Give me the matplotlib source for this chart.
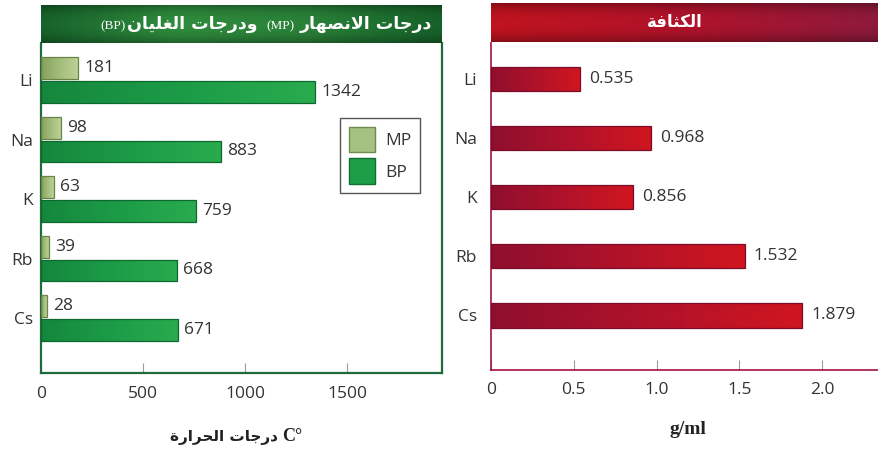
import numpy as np
import matplotlib
matplotlib.use("Agg")
import matplotlib.pyplot as plt
from matplotlib.colors import LinearSegmentedColormap
from matplotlib.patches import Patch

elements = ["Li", "Na", "K", "Rb", "Cs"]
melting_points = [181, 98, 63, 39, 28]
boiling_points = [1342, 883, 759, 668, 671]
densities = [0.535, 0.968, 0.856, 1.532, 1.879]
temp_ticks = [0, 500, 1000, 1500]
density_ticks = [0, 0.5, 1.0, 1.5, 2.0]
density_tick_labels = ["0", "0.5", "1.0", "1.5", "2.0"]

W, H = 879, 450
SANS = "Open Sans"
SERIF = "Liberation Serif"
ARABIC = "DejaVu Sans"

# contextual forms: isolated, final, initial, medial
FORMS = {
    "ا": ("\ufe8d", "\ufe8e"),
    "ة": ("\ufe93", "\ufe94"),
    "ت": ("\ufe95", "\ufe96", "\ufe97", "\ufe98"),
    "ث": ("\ufe99", "\ufe9a", "\ufe9b", "\ufe9c"),
    "ج": ("\ufe9d", "\ufe9e", "\ufe9f", "\ufea0"),
    "ح": ("\ufea1", "\ufea2", "\ufea3", "\ufea4"),
    "د": ("\ufea9", "\ufeaa"),
    "ر": ("\ufead", "\ufeae"),
    "ص": ("\ufeb9", "\ufeba", "\ufebb", "\ufebc"),
    "غ": ("\ufecd", "\ufece", "\ufecf", "\ufed0"),
    "ف": ("\ufed1", "\ufed2", "\ufed3", "\ufed4"),
    "ك": ("\ufed9", "\ufeda", "\ufedb", "\ufedc"),
    "ل": ("\ufedd", "\ufede", "\ufedf", "\ufee0"),
    "ن": ("\ufee5", "\ufee6", "\ufee7", "\ufee8"),
    "ه": ("\ufee9", "\ufeea", "\ufeeb", "\ufeec"),
    "و": ("\ufeed", "\ufeee"),
    "ي": ("\ufef1", "\ufef2", "\ufef3", "\ufef4"),
}


def ar(text):
    """Shape Arabic letters and return them in display order."""
    out = []
    i = 0
    while i < len(text):
        ch = text[i]
        if ch not in FORMS:
            out.append(ch)
            i += 1
            continue
        prev = text[i - 1] if i > 0 else ""
        joins_prev = prev in FORMS and len(FORMS[prev]) == 4
        if ch == "ل" and i + 1 < len(text) and text[i + 1] == "ا":
            out.append("\ufefc" if joins_prev else "\ufefb")
            i += 2
            continue
        nxt = text[i + 1] if i + 1 < len(text) else ""
        forms = FORMS[ch]
        joins_next = len(forms) == 4 and nxt in FORMS
        if joins_prev and joins_next:
            out.append(forms[3])
        elif joins_prev:
            out.append(forms[1])
        elif joins_next:
            out.append(forms[2])
        else:
            out.append(forms[0])
        i += 1
    return "".join(reversed(out))


def box(x0, y0, x1, y1):
    return [x0 / W, 1 - y1 / H, (x1 - x0) / W, (y1 - y0) / H]


def gradient_barh(ax, y, widths, height, colors, edge):
    cmap = LinearSegmentedColormap.from_list("bar", colors)
    bars = ax.barh(y, widths, height=height, facecolor="none",
                   edgecolor=edge, linewidth=0.9, zorder=3)
    grad = np.linspace(0, 1, 256).reshape(1, -1)
    for bar in bars:
        x0, y0 = bar.get_x(), bar.get_y()
        im = ax.imshow(grad, cmap=cmap, aspect="auto", interpolation="bilinear",
                       extent=(x0, x0 + bar.get_width(), y0, y0 + bar.get_height()),
                       zorder=2)
        im.set_clip_path(bar)
    return bars


def header(rect, colors):
    hax = fig.add_axes(rect)
    cmap = LinearSegmentedColormap.from_list("head", colors)
    hax.imshow(np.linspace(0, 1, 256).reshape(1, -1), cmap=cmap, aspect="auto",
               extent=(0, 1, 0, 1), interpolation="bilinear")
    shade = np.zeros((64, 1, 4))
    v = np.linspace(-1, 1, 64)
    shade[:, 0, 3] = 0.3 * np.abs(v) ** 2.5
    hax.imshow(shade, aspect="auto", extent=(0, 1, 0, 1), interpolation="bilinear")
    hax.set_xlim(0, 1)
    hax.set_ylim(0, 1)
    hax.set_axis_off()
    return hax


def rtl_pieces(x_right, y_base, pieces):
    # pieces in reading order, laid out from the right edge leftwards
    renderer = fig.canvas.get_renderer()
    x = x_right
    for text, gap, kw in pieces:
        x -= gap
        t = fig.text(x / W, 1 - y_base / H, text, ha="right", va="baseline", **kw)
        x -= t.get_window_extent(renderer).width


fig = plt.figure(figsize=(W / 100, H / 100), dpi=100)
fig.patch.set_facecolor("white")

# melting / boiling points
ax1 = fig.add_axes(box(41, 43, 442, 373))
pos = np.arange(len(elements))
gradient_barh(ax1, pos - 0.2, melting_points, 0.37,
              ["#86a05a", "#a3bd7c", "#bcd197"], "#6a8448")
gradient_barh(ax1, pos + 0.2, boiling_points, 0.36,
              ["#15873d", "#1c9b47", "#2aab4e"], "#0d6a2f")
for p, mp, bp in zip(pos, melting_points, boiling_points):
    ax1.text(mp + 30, p - 0.2, str(mp), va="center", ha="left",
             fontsize=12.5, family=SANS, color="#333333")
    ax1.text(bp + 30, p + 0.2, str(bp), va="center", ha="left",
             fontsize=12.5, family=SANS, color="#333333")
ax1.set_xlim(0, 1965)
ax1.set_ylim(4.924, -0.622)
ax1.set_xticks(temp_ticks)
ax1.set_xticklabels([str(t) for t in temp_ticks])
ax1.set_yticks(pos)
ax1.set_yticklabels(elements)
ax1.tick_params(axis="y", length=0, pad=6)
ax1.tick_params(axis="x", direction="in", length=7, width=0.8, color="#9a9a9a", pad=9)
for lab in ax1.get_xticklabels() + ax1.get_yticklabels():
    lab.set_family(SANS)
    lab.set_fontsize(12.5)
    lab.set_color("#333333")
ax1.spines["top"].set_visible(False)
for s in ["left", "right", "bottom"]:
    ax1.spines[s].set_color("#1f6b3c")
    ax1.spines[s].set_linewidth(1.6)

legend = ax1.legend(
    handles=[Patch(facecolor="#a6c283", edgecolor="#6f8c4f", label="MP"),
             Patch(facecolor="#1f9e48", edgecolor="#0f6f30", label="BP")],
    loc="upper right", bbox_to_anchor=(0.945, 0.773), borderaxespad=0,
    handlelength=1.5, handleheight=1.9, handletextpad=0.6,
    labelspacing=0.35, borderpad=0.5, fancybox=False, framealpha=1,
    edgecolor="#555555", prop={"family": SANS, "size": 12.5})
legend.get_frame().set_linewidth(1.0)
for t in legend.get_texts():
    t.set_color("#333333")

# density
ax2 = fig.add_axes(box(491, 43, 879, 370))
gradient_barh(ax2, pos, densities, 0.41,
              ["#8e0f2e", "#b0122a", "#d0161f"], "#7a0c28")
for p, d in zip(pos, densities):
    ax2.text(d + 0.055, p, f"{d:.3f}", va="center", ha="left",
             fontsize=12.5, family=SANS, color="#333333")
ax2.set_xlim(0, 2.344)
ax2.set_ylim(4.924, -0.609)
ax2.set_xticks(density_ticks)
ax2.set_xticklabels(density_tick_labels)
ax2.set_yticks(pos)
ax2.set_yticklabels(elements)
ax2.tick_params(axis="y", length=0, pad=10)
ax2.tick_params(axis="x", direction="in", length=7, width=0.8, color="#9a9a9a", pad=9)
for lab in ax2.get_xticklabels() + ax2.get_yticklabels():
    lab.set_family(SANS)
    lab.set_fontsize(12.5)
    lab.set_color("#333333")
ax2.spines["top"].set_visible(False)
ax2.spines["right"].set_visible(False)
for s in ["left", "bottom"]:
    ax2.spines[s].set_color("#a3123f")
    ax2.spines[s].set_linewidth(1.2)

# headers
header(box(41, 5, 442, 43), ["#17622b", "#2f8c3d", "#2a8239", "#17612a"])
header(box(491, 3, 879, 42), ["#c0141f", "#b0132a", "#8e1a3c"])

title_ar = dict(family=ARABIC, weight="bold", fontsize=12.5, color="white")
title_en = dict(family=SERIF, fontsize=9.5, color="white")
rtl_pieces(432, 29, [
    (ar("درجات الانصهار"), 0, title_ar),
    ("(MP)", 5, title_en),
    (ar("ودرجات الغليان"), 9, title_ar),
    ("(BP)", 1, title_en),
])
fig.text(675 / W, 1 - 27 / H, ar("الكثافة"), ha="center", va="baseline",
         family=ARABIC, weight="bold", fontsize=12, color="white")

# axis titles
renderer = fig.canvas.get_renderer()
t_c = fig.text(302 / W, 1 - 441 / H, "C°", ha="right", va="baseline",
               family=SERIF, weight="bold", fontsize=13, color="#222222")
wc = t_c.get_window_extent(renderer).width
fig.text((302 - wc - 4) / W, 1 - 441 / H, ar("درجات الحرارة"), ha="right",
         va="baseline", family=ARABIC, weight="bold", fontsize=11, color="#222222")
fig.text(688 / W, 1 - 430 / H, "g/ml", ha="center", va="center",
         family=SERIF, weight="bold", fontsize=14, color="#222222")

fig.savefig("out.png", dpi=100)
